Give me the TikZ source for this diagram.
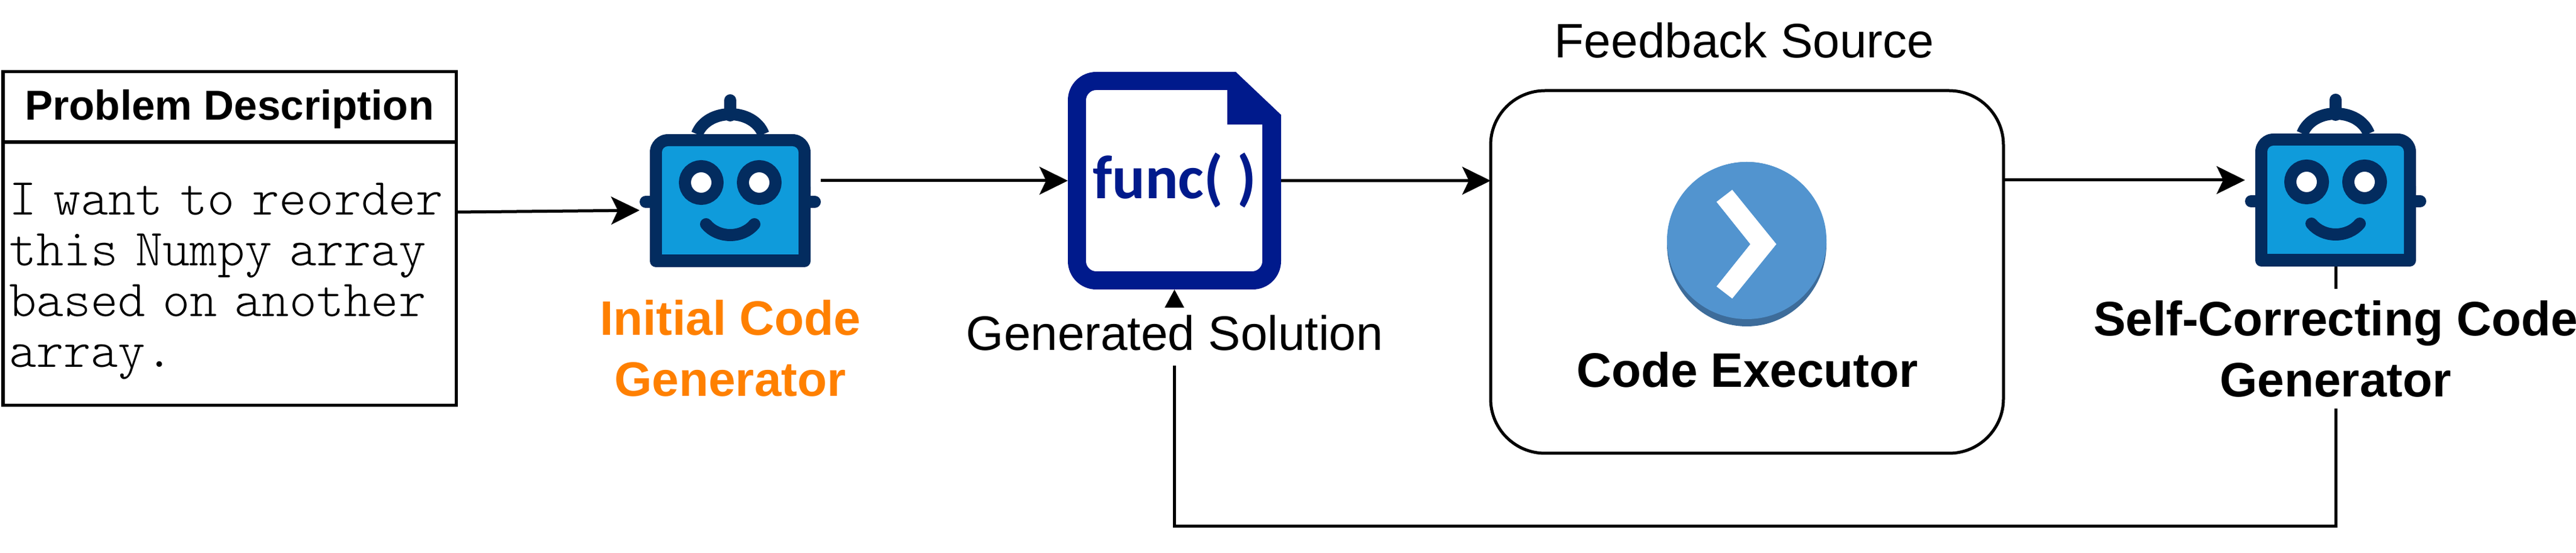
\documentclass[tikz,border=0pt]{standalone}
\usepackage{fontspec}
\setmainfont{Liberation Sans}
\newfontfamily\funcfont{Carlito}
\newfontfamily\probfont{Latin Modern Mono Light}
\usetikzlibrary{arrows.meta}
\definecolor{robotnavy}{HTML}{032C5F}
\definecolor{robotblue}{HTML}{0F9BDB}
\definecolor{solblue}{HTML}{001A8C}
\definecolor{initorange}{HTML}{FF8000}
\definecolor{execblue}{HTML}{5294CF}
\definecolor{execdark}{HTML}{3D6C9A}
\newcommand{\labelsize}{\fontsize{22.8}{28.7}\selectfont}
\tikzset{
  flow/.style={line width=0.05cm, -{Stealth[length=0.47cm, width=0.46cm, inset=0.11cm]}},
  backflow/.style={line width=0.05cm, -{Stealth[length=0.3cm, width=0.31cm, inset=0pt]}},
  tablebox/.style={draw, line width=0.05cm, minimum width=7.5cm, outer sep=0pt, inner sep=0pt},
  robotbox/.style={minimum width=3cm, minimum height=2.86cm, inner sep=0pt, outer sep=0pt},
  caption/.style={font=\labelsize, align=center, inner sep=0pt},
  robot/.pic={
    % Head
    \draw[robotnavy, line width=0.2cm, line cap=round] (-1.40,-0.35) -- (1.40,-0.35);
    \fill[robotnavy, rounded corners=0.1cm] (-1.33,-1.43) -- (1.33,-1.43) -- (1.33,0) -- (-1.33,0) -- cycle;
    \fill[robotnavy, rounded corners=0.3cm] (-1.33,-0.5) -- (1.33,-0.5) -- (1.33,0.77) -- (-1.33,0.77) -- cycle;
    \fill[robotblue] (-1.13,-1.22) -- (1.13,-1.22) -- (1.13,0.47) arc[start angle=0, end angle=90, radius=0.1]
      -- (-1.03,0.57) arc[start angle=90, end angle=180, radius=0.1] -- cycle;
    % Antenna
    \draw[robotnavy, line width=0.2cm] (-0.55,0.77) .. controls (-0.38,1.21) and (0.38,1.21) .. (0.55,0.77);
    \draw[robotnavy, line width=0.2cm, line cap=round] (0,1.08) -- (0,1.33);
    % Face
    \foreach \eyex in {-0.48,0.48}
      \draw[robotnavy, line width=0.2cm, fill=white] (\eyex,-0.03) circle (0.27);
    \draw[robotnavy, line width=0.2cm, line cap=round] (-0.4,-0.72) .. controls (-0.2,-0.96) and (0.2,-0.96) .. (0.4,-0.72);
  }
}
\begin{document}
\begin{tikzpicture}
  \useasboundingbox (0,0) rectangle (42.65,9.15);

  % Problem table
  \node[tablebox, minimum height=1.165cm, font=\fontsize{19.7}{24}\selectfont\bfseries] (ProbHead) at (3.80,7.38) {\raisebox{-0.22cm}[0pt][0pt]{Problem Description}};
  \node[tablebox, minimum height=4.36cm] (ProbBody) at (3.80,4.62) {};
  \node[text width=7.36cm, align=left, inner sep=0pt, font=\probfont\fontsize{24.5}{23.9}\selectfont] (ProbText) at (3.83,4.50) {I want to reorder\\this Numpy array\\based on another\\array.};

  % Generators
  \node[robotbox] (InitGen) at (12.09,6.16) {};
  \pic at (InitGen) {robot};
  \node[robotbox] (SelfGen) at (38.67,6.17) {};
  \pic at (SelfGen) {robot};

  % Solution file
  \node[minimum width=3.53cm, minimum height=3.6cm, inner sep=0pt, outer sep=0pt, text=solblue, font=\funcfont\fontsize{29}{34}\selectfont\bfseries] (Sol) at (19.445,6.16) {\raisebox{-0.30cm}[0pt][0pt]{func( )}};
  \fill[solblue, even odd rule] (20.46,7.96) -- (21.21,7.25) -- (21.21,4.83) arc[start angle=0, end angle=-90, radius=0.47]
    -- (18.15,4.36) arc[start angle=270, end angle=180, radius=0.47] -- (17.68,7.49) arc[start angle=180, end angle=90, radius=0.47] -- cycle
    (20.32,7.66) -- (20.32,7.09) -- (20.90,7.09) -- (20.90,4.83) arc[start angle=0, end angle=-90, radius=0.17]
    -- (18.15,4.66) arc[start angle=270, end angle=180, radius=0.17] -- (17.98,7.49) arc[start angle=180, end angle=90, radius=0.17] -- cycle;

  % Executor
  \node[draw, line width=0.05cm, rounded corners=0.9cm, minimum width=8.49cm, minimum height=6cm, outer sep=0pt] (Exec) at (28.925,4.65) {};
  \fill[execdark] (28.92,5.11) ellipse (1.32 and 1.36);
  \fill[execblue] (28.92,5.17) ellipse (1.32 and 1.30);
  \fill[white] (28.42,5.81) -- (28.68,6.01) -- (29.41,5.11) -- (28.68,4.21) -- (28.42,4.41) -- (28.98,5.11) -- cycle;
  \node[caption, font=\labelsize\bfseries] (ExecName) at (28.93,3.03) {Code Executor};
  \node[caption] (FeedbackName) at (28.88,8.48) {Feedback Source};

  % Paths
  \draw[flow] ([yshift=1.02cm]ProbBody.east) -- ([yshift=-0.49cm]InitGen.west);
  \draw[flow] (InitGen.east) -- (Sol.west);
  \draw[flow] (Sol.east) -- ([yshift=1.51cm]Exec.west);
  \draw[flow] ([yshift=1.52cm]Exec.east) -- (SelfGen.west);
  \coordinate (BackTurn) at (19.445,0.44);
  \draw[backflow] (SelfGen.south) |- (BackTurn) -- (Sol.south);

  % Labels over the return path
  \node[caption, font=\labelsize\bfseries, text=initorange] (InitName) at (12.09,3.39) {Initial Code\\Generator};
  \node[caption, font=\labelsize\bfseries, fill=white, minimum height=1.98cm] (SelfName) at (38.67,3.38) {Self-Correcting Code\\Generator};
  \node[caption, fill=white, minimum height=0.96cm] (SolName) at (19.45,3.58) {\raisebox{-0.23cm}[0pt][0pt]{Generated Solution}};
\end{tikzpicture}
\end{document}
